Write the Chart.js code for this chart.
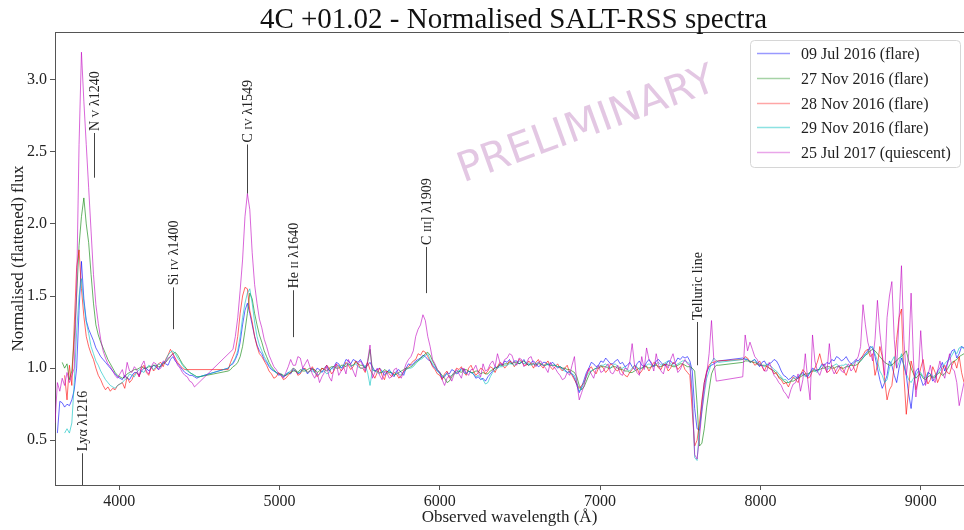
<!DOCTYPE html>
<html><head><meta charset="utf-8">
<script src="https://cdn.jsdelivr.net/npm/chart.js@4.4.0/dist/chart.umd.min.js"></script>
<style>html,body{margin:0;padding:0;background:#fff;}canvas{display:block}</style>
</head><body>
<canvas id="c" width="964" height="530"></canvas>
<script>
// ---------------- DATA ----------------
const wavelength = [
3600,3615,3630,3645,3660,3675,3690,3705,3720,3735,
3750,3765,3780,3795,3810,3825,3840,3855,3870,3885,
3900,3915,3930,3945,3960,3975,3990,
4020,4035,4050,4065,4080,4095,4110,4125,4140,4155,4170,4185,4200,4215,4230,4245,4260,4275,4290,4305,
4320,4335,4350,4365,4380,4395,4410,4425,4440,4455,4470,4485,4500,4515,4530,4545,4560,4575,4590,4605,
4620,4635,4650,4665,4680,4695,4710,4725,4740,4755,4770,4785,4800,4815,4830,4845,4860,4875,4890,4905,
4920,4935,4950,4965,4980,4995,5010,5025,5040,5055,5070,5085,5100,5115,5130,5145,5160,5175,5190,5205,
5220,5235,5250,5265,5280,5295,5310,5325,5340,5355,5370,5385,5400,5415,5430,5445,5460,5475,5490,5505,
5520,5535,5550,5565,5580,5595,5610,5625,5640,5655,5670,5685,5700,5715,5730,5745,5760,5775,5790,5805,
5820,5835,5850,5865,5880,5895,5910,5925,5940,5955,5970,5985,6000,6015,6030,6045,6060,6075,6090,6105,
6120,6135,6150,6165,6180,6195,6210,6225,6240,6255,6270,6285,6300,6315,6330,6345,6360,6375,6390,6405,
6420,6435,6450,6465,6480,6495,6510,6525,6540,6555,6570,6585,6600,6615,6630,6645,6660,6675,6690,6705,
6720,6735,6750,6765,6780,6795,6810,6825,6840,6855,6870,6885,6900,6915,6930,6945,6960,6975,6990,7005,
7020,7035,7050,7065,7080,7095,7110,7125,7140,7155,7170,7185,7200,7215,7230,7245,7260,7275,7290,7305,
7320,7335,7350,7365,7380,7395,7410,7425,7440,7455,7470,7485,7500,7515,7530,7545,7560,7575,7590,7605,
7620,7635,7650,7665,7680,7695,7710,7725,7740,7755,7770,7785,7800,7815,7830,7845,7860,7875,7890,7905,
7920,7935,7950,7965,7980,7995,8010,8025,8040,8055,8070,8085,8100,8115,8130,8145,8160,8175,8190,8205,
8220,8235,8250,8265,8280,8295,8310,8325,8340,8355,8370,8385,8400,8415,8430,8445,8460,8475,8490,8505,
8520,8535,8550,8565,8580,8595,8610,8625,8640,8655,8670,8685,8700,8715,8730,8745,8760,8775,8790,8805,
8820,8835,8850,8865,8880,8895,8910,8925,8940,8955,8970,8985,9000,9015,9030,9045,9060,9075,9090,9105,
9120,9135,9150,9165,9180,9195,9210,9225,9240,9255,9270];

const flux_09Jul2016 = [
null,0.55,0.77,0.76,0.73,0.75,0.74,0.78,0.85,1.00,
1.40,1.74,1.48,1.33,1.27,1.23,1.19,1.14,1.11,1.08,
1.06,1.04,1.02,1.00,0.98,0.96,0.94,
0.92,0.95,0.93,0.92,0.95,0.97,0.97,0.95,0.98,1.00,1.00,0.98,1.00,1.02,1.01,0.99,1.02,1.04,1.03,1.02,
1.06,1.08,1.05,1.03,1.01,0.99,0.97,0.96,0.95,0.95,0.94,0.93,0.94,null,null,null,null,null,null,null,
null,null,null,null,1.00,1.02,1.03,1.06,1.10,1.18,1.30,1.40,1.45,1.38,1.30,1.22,1.16,1.12,1.10,1.06,
1.04,1.01,0.99,0.98,0.97,0.95,0.96,0.94,0.95,0.97,0.96,0.99,0.98,0.96,0.97,1.00,0.99,0.96,0.98,1.00,
0.97,1.00,0.99,0.97,1.00,1.02,0.98,1.00,1.01,1.04,1.03,1.00,1.02,1.06,1.05,1.03,1.06,1.05,1.04,1.06,
1.03,1.00,1.02,1.04,1.01,0.98,0.99,1.00,0.98,0.95,0.97,0.99,0.96,0.94,0.98,0.99,0.97,0.95,1.00,1.03,
1.02,1.03,1.05,1.06,1.07,1.09,1.08,1.06,1.05,1.02,1.00,0.98,0.97,0.93,0.94,0.97,0.96,0.99,0.98,0.96,
0.97,1.00,0.99,0.96,0.98,0.97,0.96,0.93,0.94,0.92,0.93,0.91,0.94,0.96,0.98,1.01,1.00,1.03,1.02,1.05,
1.04,1.06,1.03,1.05,1.05,1.03,1.04,1.06,1.03,1.02,1.04,1.05,1.03,1.01,1.02,1.04,1.04,1.02,1.03,1.04,
1.02,1.00,1.01,1.00,0.99,0.97,0.98,0.96,0.93,0.88,0.83,0.87,0.92,0.97,1.00,1.04,1.03,1.01,1.02,1.05,
1.04,1.07,1.05,1.03,1.03,1.05,1.06,1.03,1.04,1.01,1.02,1.04,1.01,0.99,1.03,1.05,1.02,1.01,1.04,1.06,
1.03,1.01,1.05,1.06,1.04,1.02,1.02,1.05,1.05,1.03,1.04,1.07,1.06,1.08,1.07,1.08,1.05,0.98,0.72,0.58,
0.57,0.75,0.90,0.97,1.01,1.02,1.03,1.04,1.05,null,null,null,null,null,null,null,null,null,1.07,1.06,
1.06,1.04,1.05,1.06,1.03,1.01,1.04,1.05,1.02,1.03,1.04,1.06,1.05,1.02,0.98,0.95,0.94,0.92,0.93,0.95,
0.94,0.93,0.96,0.97,0.95,0.94,0.97,1.00,0.99,0.98,1.00,1.03,1.02,1.04,1.03,1.06,1.05,1.08,1.07,1.05,
1.06,1.08,1.05,1.03,1.04,1.06,1.05,1.07,1.08,1.10,1.12,1.15,1.14,1.08,1.00,0.92,0.86,0.90,0.95,1.05,
1.02,0.95,0.90,1.00,1.07,1.02,0.95,0.82,0.72,0.88,0.98,1.00,0.93,0.88,0.90,0.97,0.96,0.91,0.93,0.98,
1.00,1.04,0.98,1.03,1.08,1.12,1.13,1.07,1.10,1.15,1.14];

const flux_27Nov2016 = [
null,null,null,1.04,1.00,1.03,0.92,0.98,1.20,1.50,
1.85,2.05,2.18,2.00,1.87,1.65,1.45,1.30,1.23,1.18,
1.14,1.10,1.06,1.03,1.00,0.97,0.95,
0.93,0.94,0.96,0.97,0.98,0.99,0.99,1.00,1.01,1.00,1.00,1.01,1.01,1.02,1.02,1.01,1.01,1.03,1.04,1.06,
1.08,1.10,1.11,1.09,1.06,1.03,1.01,0.99,0.97,0.96,0.95,0.94,0.94,null,null,null,null,null,null,null,
null,null,null,null,0.98,0.99,1.01,1.02,1.04,1.08,1.15,1.26,1.38,1.52,1.48,1.38,1.30,1.23,1.18,1.12,
1.08,1.04,1.01,0.99,0.97,0.96,0.96,0.95,0.95,0.96,0.97,0.98,0.98,0.97,0.99,0.98,0.98,0.99,1.00,0.99,
0.99,0.97,0.98,1.00,0.99,0.98,1.00,1.01,1.01,1.00,1.00,1.02,1.02,1.01,1.03,1.02,1.02,1.04,1.03,1.02,
1.02,1.00,1.04,1.13,0.99,0.98,0.98,0.97,0.97,0.99,0.98,0.97,0.97,0.95,0.96,0.97,0.98,0.99,1.00,1.00,
1.01,1.02,1.04,1.05,1.07,1.08,1.10,1.11,1.09,1.05,1.02,0.99,0.97,0.95,0.93,0.90,0.91,0.94,0.96,0.97,
0.98,0.97,0.99,0.99,0.98,0.97,0.97,0.98,0.98,0.96,0.97,0.96,0.96,0.98,0.99,1.00,1.01,1.02,1.02,1.03,
1.03,1.04,1.03,1.04,1.04,1.03,1.04,1.05,1.03,1.02,1.03,1.03,1.02,1.03,1.03,1.02,1.02,1.03,1.02,1.02,
1.02,1.01,1.01,1.00,1.00,0.99,0.99,0.98,0.97,0.94,0.88,0.85,0.87,0.91,0.95,0.98,0.99,1.00,1.00,1.01,
1.01,1.01,1.00,1.00,1.01,1.01,1.00,0.99,0.99,0.98,0.98,0.97,0.97,0.98,0.99,1.00,1.00,1.01,1.01,1.00,
1.01,1.02,1.02,1.01,1.01,1.02,1.03,1.02,1.02,1.01,1.01,1.02,1.03,1.03,1.02,1.01,1.01,1.00,0.98,0.75,
0.46,0.48,0.58,0.73,0.85,0.96,1.00,1.02,1.02,null,null,null,null,null,null,null,null,null,1.04,1.05,
1.05,1.05,1.04,1.04,1.03,1.02,1.02,1.02,1.01,1.00,0.99,0.98,0.96,0.94,0.93,0.91,0.90,0.90,0.91,0.91,
0.92,0.93,0.94,0.95,0.96,0.96,0.97,0.98,0.98,0.99,0.99,1.00,1.00,1.01,1.01,1.00,1.00,1.01,1.01,1.00,
1.00,1.01,1.01,1.02,1.02,1.02,1.03,1.05,1.07,1.09,1.10,1.12,1.13,1.12,1.10,1.08,1.06,1.04,1.03,1.02,
1.02,1.04,1.05,1.07,1.08,1.10,1.12,1.05,1.00,0.96,0.93,0.95,0.96,0.93,0.92,0.94,0.95,0.93,0.94,0.96,
0.97,0.95,0.96,0.99,1.02,1.04,1.05,1.06,1.08,1.09,1.10];

const flux_28Nov2016 = [
null,null,null,null,0.95,0.78,1.02,0.88,1.30,1.70,
1.82,1.55,1.36,1.22,1.15,1.10,1.06,1.00,0.95,0.92,
0.88,0.85,0.87,0.84,0.86,0.85,0.88,
0.90,0.86,0.94,0.90,0.92,0.96,0.97,0.94,1.00,1.02,0.97,0.95,1.01,0.98,1.00,1.03,1.04,1.01,1.06,1.09,
1.13,1.10,1.07,1.04,1.02,1.00,0.99,null,null,null,null,null,null,null,null,null,null,null,null,null,
null,null,null,null,0.99,1.04,1.08,1.12,1.22,1.38,1.50,1.56,1.55,1.40,1.32,1.22,1.15,1.10,1.08,1.05,
1.02,0.98,0.96,0.93,0.94,0.97,0.95,0.92,0.93,0.95,0.97,1.00,0.99,0.95,0.96,0.99,1.00,0.97,0.98,1.01,
0.98,0.94,0.96,1.00,0.99,1.02,1.00,0.96,0.98,1.03,1.01,0.98,1.00,1.04,1.02,0.99,1.01,1.05,1.03,1.00,
1.00,0.97,1.04,0.99,0.96,0.93,0.97,1.00,0.95,0.92,0.98,0.96,0.94,0.97,0.96,0.93,0.95,0.98,0.99,1.01,
1.03,1.05,1.06,1.10,1.09,1.12,1.11,1.08,1.05,1.01,0.99,0.96,0.95,0.92,0.96,0.98,0.93,0.95,0.97,1.00,
0.99,1.01,0.97,0.95,1.00,1.02,0.98,0.95,0.97,1.00,0.99,0.96,0.98,1.01,1.00,0.97,1.01,1.04,1.03,1.00,
1.02,1.05,1.04,1.01,1.03,1.06,1.05,1.02,1.02,1.05,1.03,1.00,1.04,1.06,1.02,1.00,1.03,1.05,1.01,0.99,
1.01,1.03,1.00,0.98,1.00,1.02,0.97,0.95,0.92,0.89,0.86,0.88,0.90,0.95,0.99,1.01,0.98,0.96,1.00,1.02,
1.00,0.97,0.99,1.03,1.02,0.99,0.98,1.01,0.97,0.95,0.94,0.97,0.99,1.02,1.00,0.96,0.98,1.02,1.01,0.98,
1.01,1.04,1.03,1.00,0.99,1.03,1.02,0.98,1.00,1.04,1.03,0.99,1.01,1.03,0.99,0.97,0.95,0.70,0.46,0.50,
0.62,0.78,0.90,0.98,1.02,1.04,1.04,1.05,1.05,null,null,null,null,null,null,null,null,null,1.06,1.08,
1.07,1.04,1.05,1.02,1.03,1.05,1.01,0.98,1.02,1.00,0.99,0.96,0.97,0.93,0.92,0.89,0.90,0.87,0.91,0.94,
0.92,0.90,0.95,0.99,0.97,0.93,0.94,0.98,1.00,1.04,1.10,1.03,1.01,0.97,0.98,1.02,1.00,0.96,0.99,1.01,
0.98,0.95,1.00,1.03,1.01,0.97,1.03,1.06,1.09,1.12,1.13,1.08,1.10,0.95,1.02,1.15,1.08,0.92,0.78,0.85,
0.88,1.02,1.20,1.35,1.41,0.95,0.68,0.86,1.05,0.98,0.85,0.92,1.00,1.06,0.95,0.89,0.92,1.01,0.97,0.90,
0.94,0.99,1.02,0.97,0.96,1.02,1.05,1.00,1.08,0.97,0.90];

const flux_29Nov2016 = [
null,null,null,null,0.55,0.58,0.55,0.62,0.90,1.25,
1.50,1.62,1.45,1.32,1.24,1.15,1.10,1.05,1.02,0.98,
0.95,0.92,0.90,0.88,0.87,0.86,0.88,
0.90,0.92,0.93,0.96,0.95,0.94,0.97,0.99,0.98,0.97,1.00,1.02,1.01,0.99,1.01,1.03,1.02,1.04,1.05,1.09,
1.11,1.12,1.10,1.07,1.05,1.02,1.00,0.98,0.97,0.96,0.95,0.94,0.94,null,null,null,null,null,null,null,
null,null,null,null,1.00,1.02,1.04,1.07,1.12,1.22,1.35,1.45,1.52,1.55,1.45,1.32,1.22,1.16,1.12,1.08,
1.05,1.02,1.00,0.98,0.97,0.96,0.95,0.94,0.96,0.97,0.98,1.00,0.99,0.97,0.97,0.99,0.99,0.97,0.98,0.98,
0.97,0.95,0.96,0.98,0.98,0.96,0.97,1.00,0.99,1.01,1.02,1.00,1.01,1.03,1.03,1.01,1.02,1.03,1.01,1.00,
1.00,1.02,0.97,0.88,0.99,0.98,0.97,0.96,0.98,0.97,0.96,0.98,0.97,0.95,0.97,0.96,0.95,0.97,0.99,1.00,
1.00,1.01,1.03,1.05,1.06,1.07,1.09,1.10,1.06,1.03,1.01,0.98,0.96,0.94,0.95,0.96,0.94,0.95,0.97,0.98,
0.98,0.99,0.97,0.96,0.98,0.97,0.96,0.94,0.95,0.93,0.92,0.89,0.90,0.94,0.97,0.99,1.00,1.01,1.01,1.02,
1.02,1.03,1.03,1.02,1.03,1.05,1.04,1.03,1.04,1.03,1.02,1.03,1.03,1.04,1.03,1.02,1.02,1.03,1.02,1.02,
1.02,1.01,1.01,0.99,0.98,0.97,0.97,0.96,0.95,0.90,0.84,0.86,0.90,0.94,0.97,0.98,0.99,1.00,1.01,1.02,
1.02,1.03,1.01,1.00,1.02,1.03,1.01,1.00,1.00,1.01,0.99,0.98,1.00,1.02,1.01,0.99,1.00,1.01,1.02,1.03,
1.02,1.01,1.03,1.04,1.02,1.03,1.04,1.05,1.03,1.02,1.02,1.03,1.04,1.05,1.05,1.04,1.03,0.85,0.38,0.36,
0.58,0.70,0.82,0.93,0.98,1.04,1.07,1.05,1.04,null,null,null,null,null,null,null,null,null,1.06,1.07,
1.06,1.04,1.05,1.06,1.04,1.03,1.02,1.01,1.03,1.02,1.01,0.99,0.98,0.96,0.94,0.92,0.92,0.90,0.91,0.93,
0.93,0.94,0.95,0.96,0.94,0.95,0.97,0.99,0.98,0.97,1.00,1.02,1.01,0.99,1.00,1.01,1.02,1.03,1.01,1.02,
1.02,1.03,1.01,1.02,1.03,1.05,1.04,1.05,1.07,1.09,1.11,1.14,1.15,1.10,1.05,0.98,0.95,0.90,0.92,1.00,
1.05,1.08,1.00,1.04,1.10,1.02,0.96,0.92,0.90,0.93,0.95,0.98,0.97,0.94,0.93,0.97,0.96,0.94,0.95,0.97,
0.98,1.01,1.03,1.05,1.06,1.09,1.12,1.10,1.14,1.15,1.13];

const flux_25Jul2017 = [
0.62,0.90,0.84,0.93,0.88,0.97,0.90,0.95,1.00,1.55,
2.55,3.19,2.85,2.55,2.25,1.95,1.65,1.44,1.31,1.20,
1.12,1.07,1.03,1.01,0.98,0.95,0.93,
0.99,0.93,1.04,0.98,0.97,1.01,0.99,0.94,1.02,1.05,0.98,0.96,1.01,1.04,1.03,0.99,1.00,1.05,1.04,1.07,
1.08,1.10,1.06,1.02,1.00,0.97,0.95,0.94,0.91,0.90,0.87,null,null,null,null,null,null,null,null,null,
null,null,null,null,null,null,1.13,1.22,1.35,1.54,1.75,2.05,2.21,2.10,1.80,1.58,1.45,1.34,1.28,1.20,
1.15,1.09,1.05,1.01,0.99,0.96,0.95,0.93,0.97,1.01,1.06,1.02,1.02,1.08,1.07,1.00,1.03,1.06,1.01,0.96,
0.93,0.97,0.90,0.94,0.97,1.01,0.94,0.91,1.00,1.03,0.95,0.98,1.01,0.96,1.06,1.02,0.98,0.94,1.03,1.05,
1.02,0.98,1.05,1.16,0.93,0.97,1.00,0.95,0.92,0.98,0.97,0.93,0.94,0.99,1.00,0.95,0.93,0.98,1.03,1.06,
1.08,1.12,1.22,1.27,1.30,1.37,1.33,1.22,1.15,1.06,1.03,0.99,0.97,0.92,0.88,0.93,0.95,0.91,0.96,0.99,
0.96,0.93,1.00,0.97,0.95,0.99,0.99,1.02,0.97,0.94,1.03,0.98,0.99,1.03,1.05,1.01,1.10,1.04,1.02,1.06,
1.07,1.10,1.09,1.04,1.02,1.07,1.06,1.01,1.03,1.07,1.08,1.03,1.01,1.04,1.05,1.02,1.00,0.97,1.04,1.01,
1.00,0.97,0.95,0.92,0.93,0.97,0.95,1.02,1.08,0.90,0.78,0.83,0.88,0.95,1.00,0.96,0.93,0.99,1.02,0.97,
0.98,1.01,1.03,0.97,0.96,0.99,1.02,0.96,0.95,1.00,0.99,1.04,1.17,1.02,0.97,0.95,1.08,0.99,1.14,1.06,
1.04,0.98,1.10,1.02,0.98,0.96,1.03,1.00,1.06,1.10,1.03,0.97,0.99,1.03,1.06,1.03,1.02,0.80,0.40,0.37,
0.52,0.70,0.85,0.96,1.10,1.33,1.05,0.91,null,null,null,null,null,null,null,null,null,null,0.94,1.23,
1.12,1.18,1.13,1.08,1.06,1.02,1.02,0.98,0.98,1.04,1.00,0.95,0.93,0.90,0.88,0.84,0.82,0.79,0.85,0.89,
0.90,0.96,0.84,0.92,1.10,0.92,0.78,1.23,1.05,0.98,0.95,1.00,1.03,0.97,1.17,1.00,0.96,0.99,1.02,0.98,
0.97,1.01,1.03,0.98,1.00,1.05,1.08,1.15,1.44,1.30,1.18,1.12,1.05,1.20,1.47,1.25,1.10,0.95,1.35,1.50,
1.60,1.20,1.00,1.35,1.71,1.20,0.95,1.10,1.52,1.05,0.80,0.95,1.26,1.00,0.88,0.95,1.02,0.93,0.90,0.98,
1.05,0.97,0.93,1.02,1.10,1.00,0.98,0.90,0.74,0.82,0.90];

const seriesLabels = ['09 Jul 2016 (flare)','27 Nov 2016 (flare)','28 Nov 2016 (flare)','29 Nov 2016 (flare)','25 Jul 2017 (quiescent)'];
const xTicks = [4000,5000,6000,7000,8000,9000];
const yTicks = [0.5,1.0,1.5,2.0,2.5,3.0];

// spectral line annotations (wavelength, marker from/to flux, label; {..} = small caps)
const lineNames = ['Lyα λ1216','N {V} λ1240','Si {IV} λ1400','C {IV} λ1549','He {II} λ1640','C {III}] λ1909','Telluric line'];
const lineWl    = [3768, 3843, 4339, 4800, 5082, 5916, 7605];
const lineFrom  = [0.19, 2.32, 1.27, 2.21, 1.215, 1.52, 1.02];
const lineTo    = [0.41, 2.63, 1.56, 2.55, 1.54, 1.84, 1.32];

// ---------------- CHART ----------------
const SERIF = '"Liberation Serif", "Times New Roman", serif';
const colors = ['rgba(0,0,255,0.6)','rgba(0,128,0,0.6)','rgba(255,0,0,0.6)','rgba(0,191,191,0.6)','rgba(191,0,191,0.6)'];
const legendColors = ['rgba(0,0,255,0.4)','rgba(0,128,0,0.35)','rgba(255,0,0,0.35)','rgba(0,191,191,0.45)','rgba(191,0,191,0.35)'];
const fluxes = [flux_09Jul2016, flux_27Nov2016, flux_28Nov2016, flux_29Nov2016, flux_25Jul2017];

const datasets = fluxes.map((f, i) => ({
  label: seriesLabels[i],
  data: wavelength.map((w, j) => ({x: w, y: f[j] === undefined ? null : f[j]})),
  borderColor: colors[i],
  borderWidth: 1,
  pointRadius: 0,
  tension: 0,
  spanGaps: true,
  fill: false,
  order: 5 - i
}));
const lenCheck = fluxes.map(f => f.length).join(',') + ' / ' + wavelength.length;
const lenOK = fluxes.every(f => f.length === wavelength.length);

function drawRich(ctx, text, x, y, size, fam) {
  const parts = text.split(/(\{[^}]*\})/).filter(s => s.length);
  let cx = x;
  for (const p of parts) {
    let t = p, s = size;
    if (p[0] === '{') { t = p.slice(1, -1); s = size * 0.78; }
    ctx.font = s + 'px ' + fam;
    ctx.fillText(t, cx, y);
    cx += ctx.measureText(t).width;
  }
}

const decor = {
  id: 'decor',
  afterDraw(chart) {
    const {ctx, chartArea: a, scales: {x, y}} = chart;
    ctx.save();
    // top spine
    ctx.strokeStyle = '#555'; ctx.lineWidth = 1;
    ctx.beginPath(); ctx.moveTo(a.left, a.top + 0.5); ctx.lineTo(a.right, a.top + 0.5); ctx.stroke();

    // title
    ctx.fillStyle = '#111';
    ctx.font = '29px ' + SERIF;
    ctx.textAlign = 'center'; ctx.textBaseline = 'alphabetic';
    ctx.fillText('4C +01.02 - Normalised SALT-RSS spectra', (a.left + a.right) / 2 + 4, 28);

    // annotations
    ctx.textAlign = 'left';
    for (let i = 0; i < lineNames.length; i++) {
      const px = Math.round(x.getPixelForValue(lineWl[i])) + 0.5;
      const y0 = y.getPixelForValue(lineFrom[i]);
      const y1 = y.getPixelForValue(lineTo[i]);
      ctx.strokeStyle = '#444'; ctx.lineWidth = 1;
      ctx.beginPath(); ctx.moveTo(px, y0); ctx.lineTo(px, y1); ctx.stroke();
      ctx.save();
      ctx.translate(px, y1 - 2);
      ctx.rotate(-Math.PI / 2);
      ctx.fillStyle = '#222';
      drawRich(ctx, lineNames[i], 0, 14 * 0.34, 14, SERIF);
      ctx.restore();
    }

    // watermark
    ctx.save();
    ctx.translate(587, 126);
    ctx.rotate(-20 * Math.PI / 180);
    ctx.font = '41px "DejaVu Sans", sans-serif';
    ctx.fillStyle = 'rgba(128,0,128,0.22)';
    ctx.textAlign = 'center'; ctx.textBaseline = 'middle';
    ctx.fillText('PRELIMINARY', 0, 0);
    ctx.restore();

    // legend
    const lx = 750.5, ly = 40.5, lw = 210, lh = 127, r = 4;
    ctx.beginPath();
    ctx.moveTo(lx + r, ly); ctx.lineTo(lx + lw - r, ly); ctx.quadraticCurveTo(lx + lw, ly, lx + lw, ly + r);
    ctx.lineTo(lx + lw, ly + lh - r); ctx.quadraticCurveTo(lx + lw, ly + lh, lx + lw - r, ly + lh);
    ctx.lineTo(lx + r, ly + lh); ctx.quadraticCurveTo(lx, ly + lh, lx, ly + lh - r);
    ctx.lineTo(lx, ly + r); ctx.quadraticCurveTo(lx, ly, lx + r, ly);
    ctx.closePath();
    ctx.fillStyle = 'rgba(255,255,255,0.8)'; ctx.fill();
    ctx.strokeStyle = '#d6d6d6'; ctx.lineWidth = 1; ctx.stroke();
    ctx.font = '16px ' + SERIF;
    ctx.textAlign = 'left'; ctx.textBaseline = 'middle';
    chart.data.datasets.forEach((ds, i) => {
      const ry = Math.round(53.3 + i * 24.6) + 0.5;
      ctx.strokeStyle = legendColors[i]; ctx.lineWidth = 1.5;
      ctx.beginPath(); ctx.moveTo(757, ry); ctx.lineTo(790, ry); ctx.stroke();
      ctx.fillStyle = '#222';
      ctx.fillText(ds.label, 801, ry + 1);
    });
    if (!lenOK) { ctx.fillStyle = 'red'; ctx.font = '14px sans-serif'; ctx.fillText('LEN ' + lenCheck, 300, 470); }
    ctx.restore();
  }
};

new Chart(document.getElementById('c'), {
  type: 'line',
  data: {datasets},
  plugins: [decor],
  options: {
    responsive: false,
    animation: false,
    devicePixelRatio: 1,
    layout: {padding: {top: 32, right: 0, left: 0, bottom: 0}},
    plugins: {legend: {display: false}, tooltip: {enabled: false}, title: {display: false}},
    scales: {
      x: {
        type: 'linear', min: 3600, max: 9270,
        afterBuildTicks: s => { s.ticks = xTicks.map(v => ({value: v})); },
        afterFit: s => { s.height = 45; },
        ticks: {font: {family: SERIF, size: 16}, color: '#222', padding: 2, maxRotation: 0, autoSkip: false, callback: v => String(v)},
        grid: {drawOnChartArea: false, drawTicks: true, tickLength: 5, color: '#555'},
        border: {color: '#555', width: 1},
        title: {display: true, text: 'Observed wavelength (Å)', font: {family: SERIF, size: 17}, color: '#222', padding: {top: 4, bottom: 2}}
      },
      y: {
        type: 'linear', min: 0.19, max: 3.33,
        afterBuildTicks: s => { s.ticks = yTicks.map(v => ({value: v})); },
        afterFit: s => { s.width = 55; },
        ticks: {font: {family: SERIF, size: 16}, color: '#222', padding: 3, autoSkip: false, callback: v => Number(v).toFixed(1)},
        grid: {drawOnChartArea: false, drawTicks: true, tickLength: 5, color: '#555'},
        border: {color: '#555', width: 1},
        title: {display: true, text: 'Normalised (flattened) flux', font: {family: SERIF, size: 17}, color: '#222', padding: 8}
      }
    }
  }
});
</script>
</body></html>
